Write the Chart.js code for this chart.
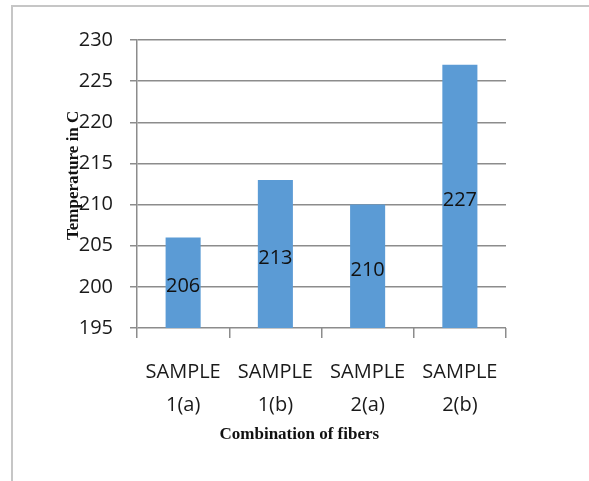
<!DOCTYPE html>
<html>
<head>
<meta charset="utf-8">
<script src="https://cdn.jsdelivr.net/npm/chart.js@4/dist/chart.umd.min.js"></script>
<style>
  html, body { margin: 0; padding: 0; background: #fff; }
  #wrap { position: relative; width: 589px; height: 481px; }
  #frame { position: absolute; left: 11px; top: 5px; right: 0; bottom: 0;
           border-left: 2px solid #c6c6c6; border-top: 2px solid #c6c6c6; pointer-events: none; }
  canvas { position: absolute; left: 0; top: 0; }
</style>
</head>
<body>
<div id="wrap">
  <canvas id="c" width="589" height="481"></canvas>
  <div id="frame"></div>
</div>
<script>
const categories = [["SAMPLE", "1(a)"], ["SAMPLE", "1(b)"], ["SAMPLE", "2(a)"], ["SAMPLE", "2(b)"]];
const temperatures = [206, 213, 210, 227];
const dataLabels = ["206", "213", "210", "227"];
const yMin = 195, yMax = 230, yStep = 5;
const xTitle = "Combination of fibers";
const yTitle = "Temperature in C";

const FONT = "'Open Sans', sans-serif";

const overlayText = {
  id: 'overlayText',
  afterDraw(chart) {
    const ctx = chart.ctx;
    const a = chart.chartArea;
    const xs = chart.scales.x, ys = chart.scales.y;
    ctx.save();
    // value labels, centred in each bar
    ctx.font = "20px " + FONT;
    ctx.fillStyle = "#111111";
    ctx.textAlign = "center";
    ctx.textBaseline = "middle";
    temperatures.forEach((v, i) => {
      const top = ys.getPixelForValue(v);
      const base = ys.getPixelForValue(yMin);
      ctx.fillText(dataLabels[i], xs.getPixelForValue(i), (top + base) / 2 + 4);
    });
    // axis titles
    ctx.font = "bold 17px 'Liberation Serif', 'Times New Roman', serif";
    ctx.fillStyle = "#111111";
    ctx.fillText(xTitle, a.left + (a.right - a.left) * 0.44, a.bottom + 107);
    ctx.translate(a.left - 63, a.top + (a.bottom - a.top) * 0.47);
    ctx.rotate(-Math.PI / 2);
    ctx.fillText(yTitle, 0, 0);
    ctx.restore();
  }
};

new Chart(document.getElementById('c'), {
  type: 'bar',
  data: {
    labels: categories,
    datasets: [{
      data: temperatures,
      backgroundColor: '#5B9BD5',
      borderWidth: 0,
      barPercentage: 0.38,
      categoryPercentage: 1.0
    }]
  },
  options: {
    responsive: false,
    animation: false,
    devicePixelRatio: 1,
    layout: { padding: { left: 0, top: 40, right: 83, bottom: 0 } },
    plugins: { legend: { display: false }, tooltip: { enabled: false } },
    scales: {
      x: {
        offset: true,
        grid: { display: true, drawOnChartArea: false, offset: true, color: '#8c8c8c', lineWidth: 1.5, tickLength: 10 },
        border: { display: false },
        ticks: { color: '#1a1a1a', font: { family: FONT, size: 20, lineHeight: 1.65 }, padding: 18, maxRotation: 0, autoSkip: false },
        afterFit(scale) { scale.height = 481 - 328; }
      },
      y: {
        min: yMin, max: yMax,
        grid: { color: '#8c8c8c', lineWidth: 1.5, tickLength: 7 },
        border: { display: true, color: '#8c8c8c', width: 1.5 },
        ticks: { stepSize: yStep, color: '#1a1a1a', font: { family: FONT, size: 20 }, padding: 17 },
        afterFit(scale) { scale.width = 137; }
      }
    }
  },
  plugins: [overlayText]
});
</script>
</body>
</html>
